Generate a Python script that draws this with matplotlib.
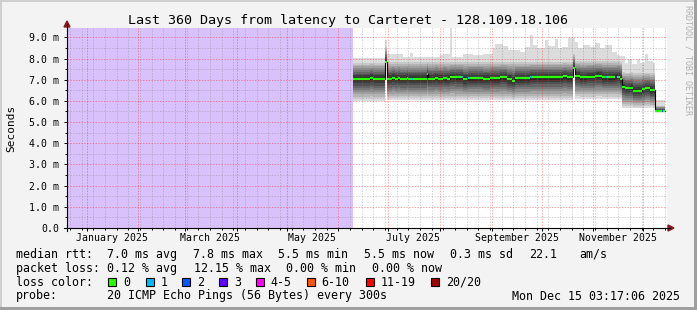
import numpy as np
import pandas as pd
import matplotlib
matplotlib.use("Agg")
import matplotlib.pyplot as plt
import matplotlib.dates as mdates
from matplotlib.patches import Polygon, Rectangle
from matplotlib.lines import Line2D
from matplotlib.transforms import blended_transform_factory

# ---------------- data ----------------
graph_start = "2024-12-20 03:17:06"
graph_end = "2025-12-15 03:17:06"
data_end = "2025-12-14"

title = "Last 360 Days from latency to Carteret - 128.109.18.106"

median_dates = [
    "2025-06-10", "2025-06-20", "2025-06-22", "2025-06-29", "2025-06-30",
    "2025-07-03", "2025-07-05", "2025-07-07", "2025-07-08", "2025-07-12",
    "2025-07-13", "2025-07-15", "2025-07-16", "2025-07-24", "2025-07-25",
    "2025-07-29", "2025-07-31", "2025-08-03", "2025-08-05", "2025-08-07",
    "2025-08-10", "2025-08-14", "2025-08-15", "2025-08-17", "2025-08-18",
    "2025-08-19", "2025-08-27", "2025-08-31", "2025-09-06", "2025-09-10",
    "2025-09-13", "2025-09-15", "2025-09-24", "2025-09-25", "2025-10-14",
    "2025-10-16", "2025-10-20", "2025-10-21", "2025-10-24", "2025-10-28",
    "2025-11-02", "2025-11-06", "2025-11-08", "2025-11-09", "2025-11-14",
    "2025-11-15", "2025-11-17", "2025-11-18", "2025-11-20", "2025-11-23",
    "2025-11-25", "2025-11-30", "2025-12-02", "2025-12-05", "2025-12-08",
    "2025-12-09", "2025-12-10", "2025-12-12", "2025-12-13",
]
median_ms = [
    7.03, 7.09, 7.03, 7.85, 7.03,
    7.08, 7.03, 7.06, 7.03, 7.08,
    7.03, 7.03, 7.03, 7.25, 7.04,
    7.09, 7.04, 7.06, 7.04, 7.13,
    7.11, 7.11, 7.02, 7.02, 7.06,
    7.06, 7.03, 7.06, 7.11, 7.02,
    6.94, 7.06, 7.11, 7.11, 7.17,
    7.11, 7.54, 7.19, 7.11, 7.14,
    7.19, 7.11, 7.11, 7.11, 7.12,
    7.14, 7.02, 6.67, 6.59, 6.62,
    6.48, 6.54, 6.59, 6.51, 5.52,
    5.52, 5.52, 5.52, 5.52,
]
median_loss = [
    0, 0, 0, 0, 0,
    0, 0, 0, 0, 0,
    0, 1, 0, 0, 0,
    0, 0, 0, 0, 0,
    0, 1, 0, 2, 1,
    0, 0, 0, 0, 0,
    0, 0, 1, 0, 0,
    0, 0, 0, 0, 0,
    0, 0, 1, 0, 3,
    0, 0, 0, 0, 0,
    0, 0, 0, 0, 0,
    1, 0, 2, 0,
]

smoke_dates = ["2025-06-10", "2025-06-29", "2025-06-30", "2025-10-20",
               "2025-10-21", "2025-11-18", "2025-12-08"]
smoke_hi_ms = [7.88, 8.60, 7.92, 8.30, 7.95, 7.42, 5.80]
smoke_lo_ms = [6.00, 7.85, 6.02, 7.54, 6.10, 5.65, 5.46]

max_dates = [
    "2025-06-10", "2025-06-29", "2025-06-30", "2025-07-10", "2025-07-14",
    "2025-07-16", "2025-08-01", "2025-08-03", "2025-08-07", "2025-08-08",
    "2025-08-15", "2025-08-21", "2025-08-27", "2025-09-02", "2025-09-03",
    "2025-09-08", "2025-09-11", "2025-09-18", "2025-09-21", "2025-09-24",
    "2025-09-26", "2025-09-28", "2025-10-03", "2025-10-05", "2025-10-09",
    "2025-10-11", "2025-10-13", "2025-10-17", "2025-10-21", "2025-10-23",
    "2025-10-26", "2025-10-30", "2025-11-02", "2025-11-05", "2025-11-08",
    "2025-11-12", "2025-11-15", "2025-11-17", "2025-11-20", "2025-11-22",
    "2025-11-24", "2025-11-27", "2025-11-29", "2025-12-02", "2025-12-04",
    "2025-12-07", "2025-12-08",
]
max_ms = [
    8.04, 8.87, 8.20, 8.09, 8.24,
    8.09, 8.17, 8.20, 9.42, 8.05,
    8.20, 8.15, 8.20, 8.48, 8.67,
    8.60, 8.40, 8.33, 8.56, 9.10,
    8.65, 8.50, 8.87, 8.60, 8.90,
    8.48, 8.56, 8.95, 8.79, 8.48,
    8.65, 8.56, 8.72, 8.48, 8.65,
    8.33, 8.17, 8.10, 7.79, 8.00,
    7.72, 8.00, 7.80, 8.22, 7.87,
    7.80, 6.04,
]

loss_labels = ["0", "1", "2", "3", "4-5", "6-10", "11-19", "20/20"]
loss_colors = ["#26ff00", "#00b8ff", "#0059ff", "#5e00ff",
               "#ff00ff", "#ff5500", "#ff0000", "#a00000"]

y_ticks = [0, 1, 2, 3, 4, 5, 6, 7, 8, 9]
y_labels = ["0.0", "1.0 m", "2.0 m", "3.0 m", "4.0 m", "5.0 m",
            "6.0 m", "7.0 m", "8.0 m", "9.0 m"]
y_max = 9.44

x_label_dates = ["2025-01-16", "2025-03-16", "2025-05-16",
                 "2025-07-16", "2025-09-16", "2025-11-16"]
x_label_texts = ["January 2025", "March 2025", "May 2025",
                 "July 2025", "September 2025", "November 2025"]

row1 = [("median rtt:", 16), ("7.0 ms avg", 107.3), ("7.8 ms max", 193),
        ("5.5 ms min", 278.5), ("5.5 ms now", 364.5), ("0.3 ms sd", 450),
        ("22.1", 529.5), ("am/s", 579.3)]
row2 = [("packet loss:", 16), ("0.12 % avg", 107.3), ("12.15 % max", 194),
        ("0.00 % min", 286), ("0.00 % now", 372.3)]
row3_label = "loss color:"
row3_box_x = [108.3, 145.7, 182.3, 219, 255.7, 306.7, 366, 430.7]
row4 = [("probe:", 16), ("20 ICMP Echo Pings (56 Bytes) every 300s", 107.3)]
stamp = "Mon Dec 15 03:17:06 2025"

# ---------------- layout ----------------
W, H = 697, 310
L, R, T, B = 67, 667, 28, 228
MONO = "DejaVu Sans Mono"
BG = "#f3f3f3"


def fx(x):
    return x / W


def fy(y):
    return 1 - y / H


fig = plt.figure(figsize=(W / 100, H / 100), dpi=100, facecolor=BG)
ax = fig.add_axes([fx(L), fy(B), (R - L) / W, (B - T) / H])
ax.set_facecolor("white")

to_num = lambda lst: mdates.date2num(pd.to_datetime(lst).to_pydatetime())
x0, x1 = to_num([graph_start, graph_end])
ax.set_xlim(x0, x1)
ax.set_ylim(0, y_max)

# unknown-data shading
ax.axvspan(x0, to_num([median_dates[0]])[0], color="#d9c1fb", lw=0, zorder=0)

# combined step grid
idx = pd.DatetimeIndex(sorted(set(pd.to_datetime(
    median_dates + smoke_dates + max_dates + [data_end]))))


def ffill(dates, vals):
    s = pd.Series(vals, index=pd.to_datetime(dates))
    return s.reindex(idx, method="ffill").values.astype(float)


xs = mdates.date2num(idx.to_pydatetime())
med = ffill(median_dates, median_ms)
hi = ffill(smoke_dates, smoke_hi_ms)
lo = ffill(smoke_dates, smoke_lo_ms)
mx = ffill(max_dates, max_ms)

fracs = [1.0, 0.9, 0.8, 0.7, 0.6, 0.5, 0.4, 0.3, 0.2, 0.1]
greys = ["#dcdcdc", "#c8c8c8", "#b4b4b4", "#a0a0a0", "#8c8c8c",
         "#787878", "#646464", "#505050", "#3c3c3c", "#282828"]
for k, (f, g) in enumerate(zip(fracs, greys)):
    lower = med - f * (med - lo)
    upper = mx if k == 0 else med + f * (hi - med)
    ax.fill_between(xs, lower, upper, step="post", color=g, lw=0, zorder=1)

# grid
sundays = pd.date_range("2024-12-21", "2025-12-15", freq="W-SUN")
months = pd.date_range("2025-01-01", "2025-12-15", freq="MS")
dash = (0, (1.4, 1.4))
for d in sundays:
    if d.day != 1:
        ax.axvline(to_num([d])[0], color="#808080", alpha=0.35, lw=0.72,
                   ls=dash, zorder=2)
for d in months:
    ax.axvline(to_num([d])[0], color="#ff0000", alpha=0.35, lw=0.72,
               ls=dash, zorder=2)
for v in np.arange(0.5, y_max, 1.0):
    ax.axhline(v, color="#808080", alpha=0.35, lw=0.72, ls=dash, zorder=2)
for v in y_ticks[1:]:
    ax.axhline(v, color="#ff0000", alpha=0.35, lw=0.72, ls=dash, zorder=2)

# median
xe = np.append(to_num(median_dates), to_num([data_end]))
ye = np.append(median_ms, median_ms[-1])
ax.step(xe, ye, where="post", color="black", lw=0.8, zorder=3)
for i in range(len(median_ms)):
    ax.hlines(median_ms[i], xe[i], xe[i + 1], colors=loss_colors[median_loss[i]],
              lw=1.6, zorder=4, capstyle="butt")

# axes ticks and labels
for s in ax.spines.values():
    s.set_visible(False)
ax.set_yticks(y_ticks)
ax.set_yticks(np.arange(0.5, y_max, 1.0), minor=True)
ax.set_yticklabels(y_labels, fontsize=7.1, family=MONO)
ax.set_xticks(to_num(list(months.astype(str))))
ax.set_xticks(to_num(list(sundays.astype(str))), minor=True)
ax.set_xticklabels([])
ax.tick_params(axis="both", which="major", length=2.5, width=0.72,
               color="black", direction="out")
ax.tick_params(axis="both", which="minor", length=1.5, width=0.72,
               color="black", direction="out")
ax.tick_params(axis="y", which="major", pad=3.3)

btr = blended_transform_factory(ax.transData, ax.transAxes)
for d, t in zip(to_num(x_label_dates), x_label_texts):
    ax.text(d, (B - 241) / (B - T), t, transform=btr, ha="center",
            va="baseline", fontsize=7.1, family=MONO)

# axis lines and arrows
fig.add_artist(Line2D([fx(L), fx(L)], [fy(B + 3), fy(24)], color="black",
                      lw=0.8, transform=fig.transFigure))
fig.add_artist(Line2D([fx(L - 3), fx(R + 3)], [fy(B), fy(B)], color="black",
                      lw=0.8, transform=fig.transFigure))
arrow_c = "#8b1a1a"
fig.add_artist(Polygon([[fx(L - 3), fy(27)], [fx(L + 3), fy(27)], [fx(L), fy(21)]],
                       closed=True, color=arrow_c, transform=fig.transFigure))
fig.add_artist(Polygon([[fx(R + 1), fy(B - 3)], [fx(R + 1), fy(B + 3)],
                        [fx(R + 7), fy(B)]],
                       closed=True, color=arrow_c, transform=fig.transFigure))

# title, axis label, watermark
fig.text(fx(348.5), fy(24), title, ha="center", va="baseline", fontsize=9.6,
         family=MONO)
fig.text(fx(11), fy(128), "Seconds", rotation=90, ha="center", va="center",
         fontsize=8, family=MONO)
fig.text(fx(688), fy(60), "RRDTOOL / TOBI OETIKER", rotation=270, ha="center",
         va="center", fontsize=6, family=MONO, color="#b0b0b0")

# legend
LEG = 8.35
for s, x in row1:
    fig.text(fx(x), fy(257.7), s, ha="left", va="baseline", fontsize=LEG, family=MONO)
for s, x in row2:
    fig.text(fx(x), fy(271.7), s, ha="left", va="baseline", fontsize=LEG, family=MONO)
fig.text(fx(16), fy(285.7), row3_label, ha="left", va="baseline", fontsize=LEG,
         family=MONO)
for bx, c, lab in zip(row3_box_x, loss_colors, loss_labels):
    fig.add_artist(Rectangle((fx(bx), fy(286)), 8 / W, 8 / H, facecolor=c,
                             edgecolor="black", lw=0.8, transform=fig.transFigure))
    fig.text(fx(bx + 15), fy(285.7), lab, ha="left", va="baseline", fontsize=LEG,
             family=MONO)
for s, x in row4:
    fig.text(fx(x), fy(299.5), s, ha="left", va="baseline", fontsize=LEG, family=MONO)
fig.text(fx(680), fy(299.5), stamp, ha="right", va="baseline", fontsize=LEG,
         family=MONO)

# 3D frame
fig.add_artist(Rectangle((0, fy(2)), 1, 2 / H, color="#cfcfcf", lw=0,
                         transform=fig.transFigure))
fig.add_artist(Rectangle((0, 0), 2 / W, 1, color="#cfcfcf", lw=0,
                         transform=fig.transFigure))
fig.add_artist(Rectangle((0, 0), 1, 3 / H, color="#9f9f9f", lw=0,
                         transform=fig.transFigure))
fig.add_artist(Rectangle((fx(W - 3), 0), 3 / W, 1, color="#9f9f9f", lw=0,
                         transform=fig.transFigure))

fig.savefig("out.png", dpi=100, facecolor=BG)
